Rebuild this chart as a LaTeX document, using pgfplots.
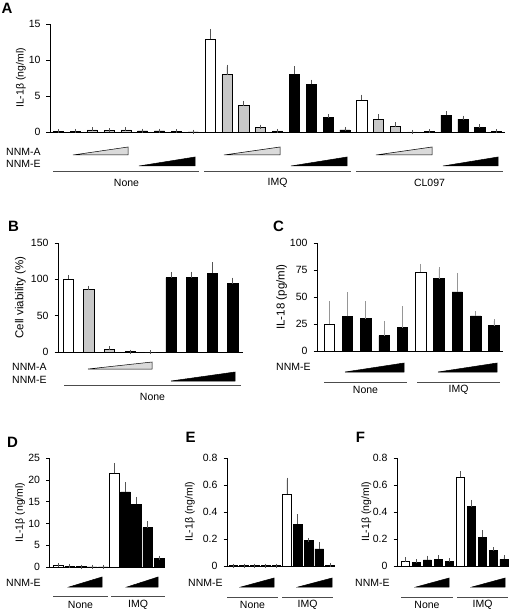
\documentclass[border=0pt]{standalone}
\usepackage{fontspec}
\setmainfont{Liberation Sans}
\usepackage{pgfplots}
\pgfplotsset{compat=1.18}
\definecolor{barGray}{RGB}{200,200,200}
\definecolor{rampGray}{RGB}{218,218,218}
\definecolor{errGray}{RGB}{85,85,85}
\definecolor{errLight}{RGB}{150,150,150}
\newcommand{\fs}{\fontsize{10.5}{12.6}\selectfont}
\newcommand{\fsl}{\fontsize{11.5}{13.8}\selectfont}
\pgfplotsset{
 panel/.style={scale only axis, axis lines=left, axis line style={-, line width=0.6pt, black},
   ymin=0, xtick=\empty, tick align=outside, major tick length=3.5pt,
   ytick style={line width=0.6pt, black},
   /pgf/number format/assume math mode=true,
   ticklabel style={font=\fs}, yticklabel style={xshift=-2.5pt},
   label style={font=\fs}, ylabel style={anchor=center},
   clip=false, anchor=south west, scaled y ticks=false},
 wbar/.style={ybar, bar shift=0pt, fill=white, draw=black, line width=0.5pt},
 gbar/.style={ybar, bar shift=0pt, fill=barGray, draw=black, line width=0.5pt},
 kbar/.style={ybar, bar shift=0pt, fill=black, draw=black, line width=0.5pt},
 errs/.style={error bars/.cd, y dir=plus, y explicit,
   error bar style={line width=0.7pt, color=#1},
   error mark options={line width=0.7pt, color=#1, mark size=2pt}},
 errs/.default=errGray,
}
\newcommand{\rampA}[4]{\filldraw[fill=rampGray, draw=black, line width=0.5pt] (#1,#3) -- (#2,#3) -- (#2,#4) -- cycle;}
\newcommand{\rampE}[4]{\filldraw[fill=black, draw=black, line width=0.5pt] (#1,#3) -- (#2,#3) -- (#2,#4) -- cycle;}
\newcommand{\gline}[3]{\draw[line width=0.8pt, black!70] (#1,#3) -- (#2,#3);}
\begin{document}
\begin{tikzpicture}
\useasboundingbox (0,0) rectangle (520pt,-609pt);
% ---------------- A
\begin{axis}[panel, at={(50pt,-132pt)}, width=455pt, height=108pt,
  xmin=-0.5, xmax=26.5, ymax=15, ytick={0,5,10,15}, bar width=0.6,
  ylabel={IL-1β (ng/ml)}, ylabel style={at={(axis description cs:-0.0637,0.5)}}]
\addplot[wbar, errs] coordinates {(0,0.05) +- (0,0.03) (9,12.87) +- (0,1.16) (18,4.44) +- (0,0.46)};
\addplot[gbar, errs] coordinates {(1,0.10) +- (0,0.05) (2,0.28) +- (0,0.07) (3,0.20) +- (0,0.05) (4,0.28) +- (0,0.07)
  (10,7.96) +- (0,1.11) (11,3.66) +- (0,0.41) (12,0.60) +- (0,0.14) (13,0.14) +- (0,0.03)
  (19,1.80) +- (0,0.40) (20,0.74) +- (0,0.36) (21,0.02) +- (0,0) (22,0.10) +- (0,0.03)};
\addplot[kbar, errs] coordinates {(5,0.14) +- (0,0.04) (6,0.14) +- (0,0.04) (7,0.10) +- (0,0.03) (8,0.03) +- (0,0.02)
  (14,8.00) +- (0,0.84) (15,6.62) +- (0,0.38) (16,2.04) +- (0,0.14) (17,0.28) +- (0,0.14)
  (23,2.36) +- (0,0.24) (24,1.80) +- (0,0.20) (25,0.60) +- (0,0.23) (26,0.08) +- (0,0.02)};
\end{axis}
% ---------------- B
\begin{axis}[panel, at={(58pt,-352pt)}, width=185pt, height=109pt,
  xmin=-0.5, xmax=8.5, ymax=150, ytick={0,50,100,150}, bar width=0.5,
  ylabel={Cell viability (\%)}, ylabel style={font=\fsl, at={(axis description cs:-0.203,0.5)}}]
\addplot[wbar, errs] coordinates {(0,100.6) +- (0,2.8)};
\addplot[gbar, errs] coordinates {(1,86.3) +- (0,2.3) (2,3.2) +- (0,2.3) (3,0.5) +- (0,0) (4,0) +- (0,0)};
\addplot[kbar, errs] coordinates {(5,102.4) +- (0,5.1) (6,102.4) +- (0,5.6) (7,108.4) +- (0,12.6) (8,94.1) +- (0,5.6)};
\end{axis}
% ---------------- C
\begin{axis}[panel, at={(317pt,-351pt)}, width=186pt, height=108pt,
  xmin=-0.66, xmax=9.5, ymax=100, ytick={0,25,50,75,100}, bar width=0.57,
  ylabel={IL-18 (pg/ml)}, ylabel style={font=\fsl, at={(axis description cs:-0.19,0.5)}}]
\addplot[wbar, errs=errLight] coordinates {(0,24.8) +- (0,19.2) (5,73.3) +- (0,5.6)};
\addplot[kbar, errs=errLight] coordinates {(1,32) +- (0,20.5) (2,30) +- (0,14) (3,14.3) +- (0,11.2) (4,21.7) +- (0,17.7)
  (6,67) +- (0,8.8) (7,54.7) +- (0,15.8) (8,32.6) +- (0,2.4) (9,23.6) +- (0,4)};
\end{axis}
% ---------------- D
\begin{axis}[panel, at={(49.5pt,-567pt)}, width=115.5pt, height=109pt,
  xmin=-0.81, xmax=9.54, ymax=25, ytick={0,5,10,15,20,25}, bar width=0.88,
  ylabel={IL-1β (ng/ml)}, ylabel style={at={(axis description cs:-0.255,0.5)}}]
\addplot[wbar, errs] coordinates {(0,0.3) +- (0,0.05) (5,21.5) +- (0,1.9)};
\addplot[kbar, errs] coordinates {(1,0.23) +- (0,0.05) (2,0.08) +- (0,0) (3,0.02) +- (0,0) (4,0.02) +- (0,0)
  (6,17.25) +- (0,1.75) (7,14.4) +- (0,1.2) (8,9.05) +- (0,1.0) (9,1.9) +- (0,0.25)};
\end{axis}
% ---------------- E
\begin{axis}[panel, at={(227pt,-566pt)}, width=108pt, height=108pt,
  xmin=-0.58, xmax=9.47, ymax=0.8, ytick={0,0.2,0.4,0.6,0.8}, bar width=0.8,
  ylabel={IL-1β (ng/ml)}, ylabel style={at={(axis description cs:-0.343,0.5)}}]
\addplot[wbar, errs] coordinates {(0,0.002) +- (0,0) (5,0.532) +- (0,0.107)};
\addplot[kbar, errs] coordinates {(1,0.002) +- (0,0) (2,0.002) +- (0,0) (3,0.002) +- (0,0) (4,0.002) +- (0,0)
  (6,0.31) +- (0,0.057) (7,0.188) +- (0,0.005) (8,0.126) +- (0,0.035) (9,0.007) +- (0,0)};
\end{axis}
% ---------------- F
\begin{axis}[panel, at={(397pt,-566pt)}, width=111pt, height=108pt,
  xmin=-0.78, xmax=9.37, ymax=0.8, ytick={0,0.2,0.4,0.6,0.8}, bar width=0.73,
  ylabel={IL-1β (ng/ml)}, ylabel style={at={(axis description cs:-0.275,0.5)}}]
\addplot[wbar, errs] coordinates {(0,0.032) +- (0,0.018) (5,0.656) +- (0,0.032)};
\addplot[kbar, errs] coordinates {(1,0.027) +- (0,0.008) (2,0.045) +- (0,0.017) (3,0.05) +- (0,0.014) (4,0.037) +- (0,0.005)
  (6,0.44) +- (0,0.035) (7,0.213) +- (0,0.037) (8,0.114) +- (0,0.01) (9,0.05) +- (0,0.014)};
\end{axis}
% ---------------- annotations
\begin{scope}[x=1pt, y=-1pt]
\tikzset{pl/.style={font=\fontsize{15}{17}\selectfont\bfseries, inner sep=0pt},
         tl/.style={font=\fs, inner sep=0pt}}
\node[pl] at (7,8) {A};
\node[pl] at (13.5,226.5) {B};
\node[pl] at (278.5,226.5) {C};
\node[pl] at (12.5,442.5) {D};
\node[pl] at (190.5,437.5) {E};
\node[pl] at (360.5,437.5) {F};
% A
\node[tl, anchor=west] at (6,151.5) {NNM-A};
\node[tl, anchor=west] at (6,163.5) {NNM-E};
\rampA{73}{128}{155}{147}
\rampE{139}{195}{166}{157}
\rampA{224}{280}{155}{147}
\rampE{291}{347}{166}{157}
\rampA{376}{432}{155}{147}
\rampE{443}{498}{166}{157}
\gline{53}{199}{171}
\gline{204}{351}{171}
\gline{356}{503}{171}
\node[tl] at (126.5,182.5) {None};
\node[tl] at (277.5,182.5) {IMQ};
\node[tl] at (429.5,182.5) {CL097};
% B
\node[tl, anchor=west] at (12,366.5) {NNM-A};
\node[tl, anchor=west] at (12,379.5) {NNM-E};
\rampA{88}{152}{369}{362}
\rampE{171}{235}{381}{372}
\gline{64}{241}{385}
\node[tl] at (152.5,396.5) {None};
% C
\node[tl, anchor=west] at (276,367) {NNM-E};
\rampE{345}{404}{372}{363}
\rampE{438}{497}{372}{363}
\gline{324}{407}{382}
\gline{417}{500}{382}
\node[tl] at (365.5,390) {None};
\node[tl] at (458.5,390) {IMQ};
% D
\node[tl, anchor=west] at (6,583) {NNM-E};
\rampE{69}{102}{587}{577}
\rampE{127}{158}{587}{577}
\gline{53}{108}{596}
\gline{111}{165}{596}
\node[tl] at (80.5,604.5) {None};
\node[tl] at (138,604.5) {IMQ};
% E
\node[tl, anchor=west] at (188,583) {NNM-E};
\rampE{241}{274}{587}{578}
\rampE{298}{332}{587}{578}
\gline{227}{278}{597}
\gline{282}{333}{597}
\node[tl] at (252.5,604.5) {None};
\node[tl] at (307.5,604.5) {IMQ};
% F
\node[tl, anchor=west] at (355,583) {NNM-E};
\rampE{416}{449}{587}{578}
\rampE{472}{505}{587}{578}
\gline{401}{453}{597}
\gline{457}{508}{597}
\node[tl] at (427,604.5) {None};
\node[tl] at (482.5,604.5) {IMQ};
\end{scope}
\end{tikzpicture}
\end{document}
